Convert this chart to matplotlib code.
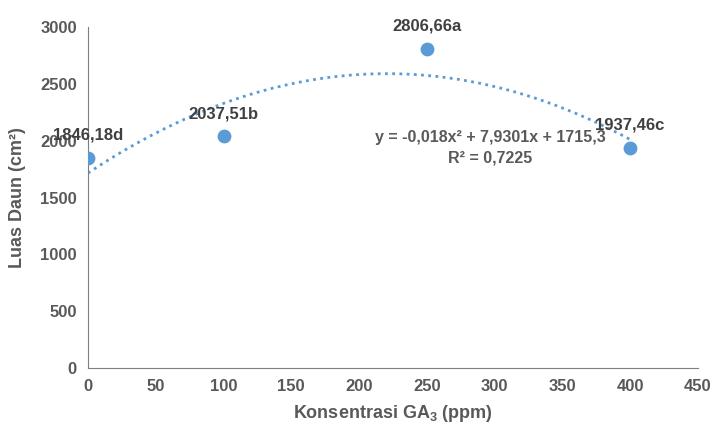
import numpy as np
import matplotlib
matplotlib.use("Agg")
import matplotlib.pyplot as plt
from matplotlib import font_manager

# font: narrow sans if available
names = {f.name for f in font_manager.fontManager.ttflist}
fam = "Liberation Sans Narrow" if "Liberation Sans Narrow" in names else "Liberation Sans"
plt.rcParams["font.family"] = [fam, "DejaVu Sans"]
plt.rcParams["mathtext.fontset"] = "custom"
plt.rcParams["mathtext.rm"] = fam + ":bold"
plt.rcParams["mathtext.default"] = "rm"

# data
konsentrasi = [0, 100, 250, 400]
luas_daun = [1846.18, 2037.51, 2806.66, 1937.46]
labels = ["1846,18d", "2037,51b", "2806,66a", "1937,46c"]

grey = "#595959"
blue = "#5B9BD5"

fig = plt.figure(figsize=(7.13, 4.32), dpi=100)
ax = fig.add_axes([0.1234, 0.148, 0.8555, 0.7895])

ax.scatter(konsentrasi, luas_daun, s=80, color=blue, zorder=3)

# polynomial trendline (order 2)
coef = np.polyfit(konsentrasi, luas_daun, 2)
xs = np.linspace(0, 400, 200)
ax.plot(xs, np.polyval(coef, xs), color=blue, lw=2, ls=(0, (1, 1.6)))

for x, y, t in zip(konsentrasi, luas_daun, labels):
    ax.annotate(t, (x, y), xytext=(0, 16.5), textcoords="offset points",
                ha="center", va="center", fontsize=12, fontweight="bold", color="#404040")

ax.text(297, 2032, "y = -0,018x² + 7,9301x + 1715,3", ha="center", va="center",
        fontsize=11.5, fontweight="bold", color=grey)
ax.text(297, 1848, "R² = 0,7225", ha="center", va="center",
        fontsize=11.5, fontweight="bold", color=grey)

ax.set_xlim(0, 450)
ax.set_ylim(0, 3000)
ax.set_xticks(np.arange(0, 451, 50))
ax.set_yticks(np.arange(0, 3001, 500))
ax.tick_params(length=0, labelsize=12, colors=grey, pad=8)
for lab in ax.get_xticklabels() + ax.get_yticklabels():
    lab.set_fontweight("bold")
for s in ["top", "right"]:
    ax.spines[s].set_visible(False)
for s in ["left", "bottom"]:
    ax.spines[s].set_color("#7f7f7f")

ax.set_xlabel("Konsentrasi GA$_3$ (ppm)", fontsize=13, fontweight="bold", color=grey, labelpad=6)
ax.set_ylabel("Luas Daun (cm²)", fontsize=13, fontweight="bold", color=grey, labelpad=10)

fig.savefig("out.png", dpi=100)
